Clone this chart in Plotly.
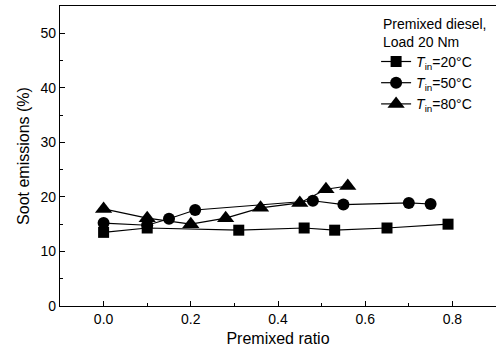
import plotly.graph_objects as go

x20 = [0.0, 0.10, 0.31, 0.46, 0.53, 0.65, 0.79]
y20 = [13.5, 14.3, 13.9, 14.3, 13.9, 14.3, 15.0]

x50 = [0.0, 0.10, 0.15, 0.21, 0.48, 0.55, 0.70, 0.75]
y50 = [15.2, 14.8, 16.0, 17.6, 19.3, 18.6, 18.9, 18.7]

x80 = [0.0, 0.10, 0.20, 0.28, 0.36, 0.45, 0.51, 0.56]
y80 = [17.8, 16.1, 15.0, 16.1, 18.0, 18.9, 21.4, 22.0]

names = ["<i>T</i><sub>in</sub>=20°C", "<i>T</i><sub>in</sub>=50°C", "<i>T</i><sub>in</sub>=80°C"]
symbols = ["square", "circle", "triangle-up"]
sizes = [11, 12, 15]
legend_heading = "Premixed diesel,<br>Load 20 Nm"

FONT = "Liberation Sans, Arial"

fig = go.Figure()
for xs, ys, nm, sym, sz in zip([x20, x50, x80], [y20, y50, y80], names, symbols, sizes):
    fig.add_trace(go.Scatter(x=xs, y=ys, mode="lines+markers", name=nm,
                             line=dict(color="black", width=1.2),
                             marker=dict(symbol=sym, size=sz, color="black")))

axis_common = dict(showline=True, linecolor="black", linewidth=1.2,
                   ticks="inside", ticklen=5, tickcolor="black", showgrid=False,
                   zeroline=False,
                   tickfont=dict(family=FONT, size=14, color="black"))

fig.update_xaxes(range=[-0.1, 0.9], dtick=0.2, tickformat=".1f", mirror=True,
                 minor=dict(ticks="inside", ticklen=3, dtick=0.1, tickcolor="black"),
                 title=dict(text="Premixed ratio", font=dict(family=FONT, size=16, color="black"), standoff=6),
                 **axis_common)
fig.update_yaxes(range=[0, 55], dtick=10, mirror=False,
                 minor=dict(ticks="inside", ticklen=3, dtick=5, tickcolor="black"),
                 title=dict(text="Soot emissions (%)", font=dict(family=FONT, size=16, color="black"), standoff=6),
                 **axis_common)

fig.add_annotation(text=legend_heading, xref="paper", yref="paper",
                   x=0.737, y=0.972, xanchor="left", yanchor="top", align="left",
                   showarrow=False, font=dict(family=FONT, size=14, color="black"))

fig.update_layout(
    width=496, height=355,
    margin=dict(l=60, r=0, t=6, b=49),
    plot_bgcolor="white", paper_bgcolor="white",
    font=dict(family=FONT, color="black"),
    legend=dict(x=0.725, y=0.867, xanchor="left", yanchor="top",
                bgcolor="rgba(0,0,0,0)", itemwidth=30,
                font=dict(size=14), tracegroupgap=0),
)

fig.write_html("out.html", config={"displayModeBar": False},
               post_script="document.body.style.margin='0';document.body.style.overflow='hidden';document.documentElement.style.overflow='hidden';")
